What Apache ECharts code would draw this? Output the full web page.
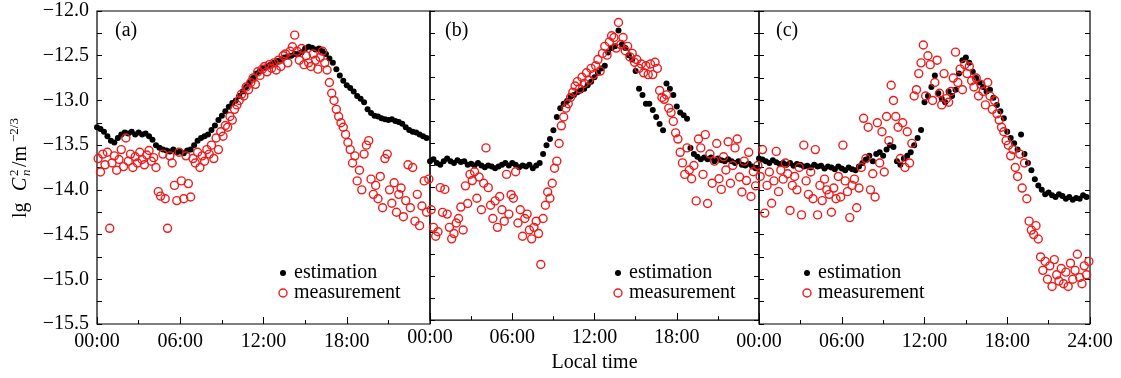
<!DOCTYPE html>
<html>
<head>
<meta charset="utf-8">
<script src="https://cdn.jsdelivr.net/npm/echarts@6/dist/echarts.min.js"></script>
<style>
  html, body { margin: 0; padding: 0; background: #fff; }
  #chart { width: 1121px; height: 378px; }
</style>
</head>
<body>
<div id="chart"></div>
<script>
// ---------- DATA ----------
const panelNames = ['(a)', '(b)', '(c)'];
const seriesNames = ['estimation', 'measurement'];
const xTickLabels = ['00:00', '06:00', '12:00', '18:00', '24:00'];
const xAxisTitle = 'Local time';

// sample times (minutes of the day)
const estTimes = [0,15,30,45,60,75,90,105,120,135,150,165,180,195,210,225,240,255,270,285,300,315,330,345,360,375,390,405,420,435,450,465,480,495,510,525,540,555,570,585,600,615,630,645,660,675,690,705,720,735,750,765,780,795,810,825,840,855,870,885,900,915,930,945,960,975,990,1005,1020,1035,1050,1065,1080,1095,1110,1125,1140,1155,1170,1185,1200,1215,1230,1245,1260,1275,1290,1305,1320,1335,1350,1365,1380,1395,1410,1425];
const measTimes = [5,15,25,35,45,55,65,75,85,95,105,115,125,135,145,155,165,175,185,195,205,215,225,235,245,255,265,275,285,295,305,315,325,335,345,355,365,375,385,395,405,415,425,435,445,455,465,475,485,495,505,515,525,535,545,555,565,575,585,595,605,615,625,635,645,655,665,675,685,695,705,715,725,735,745,755,765,775,785,795,805,815,825,835,845,855,865,875,885,895,905,915,925,935,945,955,965,975,985,995,1005,1015,1025,1035,1045,1055,1065,1075,1085,1095,1105,1115,1125,1135,1145,1155,1165,1175,1185,1195,1205,1215,1225,1235,1245,1255,1265,1275,1285,1295,1305,1315,1325,1335,1345,1355,1365,1375,1385,1395,1405,1415,1425,1435];

// panel (a)
const estA = [
 -13.30,-13.32,-13.35,-13.40, -13.45,-13.47,-13.42,-13.38, -13.36,-13.37,-13.35,-13.38, -13.36,-13.38,-13.37,-13.40,
 -13.44,-13.50,-13.53,-13.55, -13.56,-13.57,-13.55,-13.58, -13.57,-13.59,-13.56,-13.55, -13.50,-13.45,-13.42,-13.40,
 -13.38,-13.33,-13.28,-13.22, -13.17,-13.12,-13.07,-13.03, -13.00,-12.95,-12.90,-12.85, -12.80,-12.75,-12.70,-12.67,
 -12.64,-12.62,-12.60,-12.58, -12.56,-12.55,-12.52,-12.51, -12.50,-12.48,-12.48,-12.46, -12.42,-12.40,-12.41,-12.43,
 -12.42,-12.45,-12.48,-12.53, -12.58,-12.65,-12.72,-12.78, -12.83,-12.86,-12.90,-12.95, -12.98,-13.02,-13.10,-13.14,
 -13.17,-13.18,-13.20,-13.21, -13.22,-13.21,-13.23,-13.24, -13.26,-13.30,-13.33,-13.35, -13.36,-13.38,-13.40,-13.42];
const measA = [
 -13.65,-13.80,-13.60,-13.72,-13.58,-14.43, -13.70,-13.62,-13.78,-13.66,-13.55,-13.74,
 -13.42,-13.68,-13.60,-13.75,-13.63,-13.70, -13.58,-13.66,-13.72,-13.61,-13.56,-13.68,
 -13.64,-13.75,-14.02,-14.07,-13.60,-14.10, -14.43,-13.62,-13.70,-13.95,-14.12,-13.58,
 -13.90,-14.10,-13.62,-13.93,-14.08,-13.65, -13.70,-13.58,-13.75,-13.62,-13.68,-13.55,
 -13.60,-13.50,-13.65,-13.42,-13.55,-13.35, -13.40,-13.28,-13.30,-13.18,-13.22,-13.10,
 -13.05,-13.00,-12.93,-12.95,-12.85,-12.88, -12.80,-12.75,-12.82,-12.68,-12.72,-12.65,
 -12.62,-12.68,-12.60,-12.64,-12.58,-12.66, -12.55,-12.62,-12.50,-12.48,-12.58,-12.45,
 -12.40,-12.27,-12.45,-12.55,-12.42,-12.60, -12.50,-12.58,-12.62,-12.48,-12.55,-12.65,
 -12.52,-12.45,-12.58,-12.66,-12.80,-12.92, -13.00,-13.10,-13.18,-13.25,-13.30,-13.38,
 -13.47,-13.55,-13.70,-13.62,-13.90,-13.78, -14.00,-13.60,-13.50,-13.45,-13.88,-14.05,
 -13.95,-14.10,-13.85,-14.20,-13.65,-13.60, -14.00,-14.15,-13.92,-14.25,-14.05,-13.98,
 -14.30,-14.12,-13.72,-14.20,-13.75,-14.35, -14.05,-14.40,-14.18,-13.90,-14.25,-13.88];

// panel (b)
const estB = [
 -13.70,-13.68,-13.72,-13.74, -13.70,-13.67,-13.70,-13.72, -13.69,-13.71,-13.70,-13.74, -13.73,-13.75,-13.72,-13.75,
 -13.77,-13.75,-13.76,-13.78, -13.76,-13.74,-13.72,-13.75, -13.72,-13.74,-13.77,-13.75, -13.76,-13.74,-13.78,-13.75,
 -13.72,-13.62,-13.52,-13.45, -13.35,-13.20,-13.10,-13.05, -13.02,-12.97,-12.95,-12.92, -12.90,-12.88,-12.84,-12.80,
 -12.75,-12.70,-12.65,-12.62, -12.47,-12.42,-12.40,-12.22, -12.38,-12.42,-12.50,-12.55, -12.68,-12.88,-12.95,-13.05,
 -13.05,-13.12,-13.20,-13.28, -13.35,-12.82,-12.88,-12.95, -13.08,-13.15,-13.18,-13.22, -13.55,-13.62,-13.65,-13.68,
 -13.66,-13.68,-13.66,-13.70, -13.67,-13.69,-13.70,-13.68, -13.70,-13.72,-13.70,-13.74, -13.75,-13.73,-13.76,-13.78];
const measB = [
 -14.25,-14.45,-14.55,-14.50,-14.00,-14.28, -14.02,-14.30,-14.45,-14.58,-14.52,-14.40,
 -14.35,-14.22,-14.48,-13.98,-14.18,-13.85, -13.92,-13.82,-14.12,-13.88,-14.25,-13.95,
 -13.55,-14.00,-14.20,-14.35,-14.15,-14.45, -14.10,-14.25,-14.38,-13.85,-14.30,-14.08,
 -14.12,-13.82,-14.40,-14.25,-14.55,-14.35, -14.30,-14.48,-14.58,-14.45,-14.38,-14.52,
 -14.87,-14.35,-14.20,-14.05,-14.12,-13.95, -13.78,-13.70,-13.50,-13.30,-13.20,-13.10,
 -13.05,-12.98,-12.92,-12.85,-12.80,-12.88, -12.75,-12.82,-12.70,-12.78,-12.65,-12.72,
 -12.62,-12.55,-12.68,-12.48,-12.40,-12.50, -12.35,-12.28,-12.30,-12.42,-12.13,-12.38,
 -12.30,-12.45,-12.40,-12.52,-12.48,-12.58, -12.55,-12.65,-12.60,-12.70,-12.62,-12.72,
 -12.60,-12.72,-12.58,-12.65,-12.90,-12.98, -13.00,-12.95,-13.10,-13.15,-13.25,-13.38,
 -13.45,-13.60,-13.72,-13.85,-13.55,-13.80, -13.90,-13.75,-14.15,-13.45,-13.55,-13.85,
 -13.40,-14.18,-13.62,-13.95,-13.70,-13.50, -13.90,-14.02,-13.65,-13.80,-13.48,-13.95,
 -13.75,-13.55,-13.45,-13.88,-14.05,-13.70, -13.92,-13.60,-14.10,-13.82,-13.98,-13.75];

// panel (c)
const estC = [
 -13.65,-13.66,-13.68,-13.70, -13.67,-13.69,-13.71,-13.70, -13.72,-13.70,-13.73,-13.71, -13.72,-13.74,-13.73,-13.75,
 -13.72,-13.74,-13.73,-13.76, -13.74,-13.75,-13.77,-13.74, -13.76,-13.78,-13.75,-13.77, -13.78,-13.74,-13.70,-13.66,
 -13.62,-13.68,-13.60,-13.58, -13.62,-13.55,-13.50,-13.52, -13.68,-13.72,-13.65,-13.62, -13.58,-13.50,-13.42,-13.33,
 -13.02,-12.95,-12.85,-12.72, -12.92,-12.98,-13.02,-12.90, -12.95,-12.88,-12.70,-12.55, -12.52,-12.58,-12.68,-12.75,
 -12.80,-12.85,-12.90,-12.88, -12.97,-13.05,-13.12,-13.20, -13.35,-13.42,-13.48,-13.55, -13.38,-13.60,-13.70,-13.78,
 -13.88,-13.95,-14.00,-14.05, -14.03,-14.06,-14.08,-14.05, -14.07,-14.10,-14.08,-14.11, -14.09,-14.10,-14.06,-14.08];
const measC = [
 -13.85,-13.55,-14.26,-13.95,-13.80,-14.15, -13.90,-13.57,-14.02,-13.78,-13.88,-13.70,
 -13.82,-14.23,-13.95,-13.85,-14.00,-13.75, -14.28,-13.50,-13.90,-14.05,-13.80,-14.10,
 -13.55,-14.28,-13.95,-14.12,-13.88,-14.00, -14.05,-14.25,-13.98,-14.10,-13.85,-14.08,
 -13.50,-13.90,-14.02,-14.31,-13.95,-13.88, -14.20,-13.98,-13.75,-13.20,-13.65,-13.30,
 -14.00,-13.82,-14.08,-13.25,-13.70,-13.35, -13.80,-13.18,-13.45,-12.83,-13.00,-13.18,
 -13.30,-13.65,-13.25,-13.75,-13.35,-13.70, -13.48,-12.95,-12.88,-12.70,-12.58,-12.38,
 -12.95,-12.50,-12.60,-13.00,-12.80,-12.55, -12.92,-13.05,-12.70,-12.98,-13.02,-12.90,
 -12.75,-12.46,-12.80,-12.65,-12.88,-12.60, -12.70,-12.62,-12.78,-12.85,-12.75,-12.95,
 -12.82,-12.90,-13.05,-12.80,-12.95,-13.10, -13.00,-13.15,-13.22,-13.30,-13.35,-13.45,
 -13.50,-13.62,-13.55,-13.75,-13.85,-13.60, -13.98,-13.70,-14.10,-14.35,-14.45,-14.50,
 -14.40,-14.55,-14.75,-14.90,-14.80,-15.00, -14.85,-15.08,-14.78,-14.95,-15.02,-14.88,
 -15.05,-14.92,-15.08,-14.82,-15.00,-14.90, -14.72,-14.98,-15.05,-14.85,-14.95,-14.80];

const estPanels = [estA, estB, estC];
const measPanels = [measA, measB, measC];

// ---------- STYLE / LAYOUT ----------
const FONT = '"Liberation Serif", "DejaVu Serif", serif';
const RED = '#ee1b1b';
const gridBoxes = [
  { left: 97, top: 11, width: 333, height: 313 },
  { left: 430, top: 11, width: 329, height: 313 },
  { left: 759, top: 11, width: 331, height: 313 }
];
const legendPos = [{ x: 283 }, { x: 618 }, { x: 807 }];
const panelLabelX = [115, 445, 776];

function pairs(times, vals) {
  const out = [];
  for (let k = 0; k < vals.length; k++) {
    if (vals[k] !== null && vals[k] !== undefined) out.push([times[k], vals[k]]);
  }
  return out;
}
function fmtY(v) {
  const s = v.toFixed(1);
  return s.charAt(0) === '-' ? '\u2212' + s.slice(1) : s;
}

const grid = gridBoxes.map(g => Object.assign({
  show: true, borderColor: '#000', borderWidth: 1.2, backgroundColor: 'transparent'
}, g));

const xAxis = [0, 1, 2].map(i => ({
  type: 'value', gridIndex: i, min: 0, max: 1440, interval: 360,
  axisLine: { show: false },
  axisTick: { show: true, inside: true, length: 7, lineStyle: { color: '#000', width: 1 } },
  minorTick: { show: true, splitNumber: 2, length: 4, lineStyle: { color: '#000', width: 1 } },
  splitLine: { show: false },
  axisLabel: {
    color: '#000', fontFamily: FONT, fontSize: 20, margin: 8,
    showMinLabel: true, showMaxLabel: true,
    formatter: function (v) {
      const idx = Math.round(v / 360);
      if (idx === 4 && i < 2) return '';
      return xTickLabels[idx] || '';
    }
  },
  name: i === 1 ? xAxisTitle : '',
  nameLocation: 'middle', nameGap: 27,
  nameTextStyle: { color: '#000', fontFamily: FONT, fontSize: 20 }
}));

const yAxis = [];
[0, 1, 2].forEach(i => {
  yAxis.push({
    type: 'value', gridIndex: i, position: 'left', min: -15.5, max: -12.0, interval: 0.5,
    axisLine: { show: false },
    axisTick: { show: true, inside: true, length: 5, lineStyle: { color: '#000', width: 1 } },
    minorTick: { show: true, splitNumber: 2, length: 5, lineStyle: { color: '#000', width: 1 } },
    splitLine: { show: false },
    axisLabel: { show: i === 0, color: '#000', fontFamily: FONT, fontSize: 20, margin: 8, formatter: fmtY }
  });
  yAxis.push({
    type: 'value', gridIndex: i, position: 'right', min: -15.5, max: -12.0, interval: 0.5,
    axisLine: { show: false },
    axisTick: { show: i > 0, inside: true, length: 5, lineStyle: { color: '#000', width: 1 } },
    minorTick: { show: i > 0, splitNumber: 2, length: 5, lineStyle: { color: '#000', width: 1 } },
    splitLine: { show: false },
    axisLabel: { show: false }
  });
});

const series = [];
[0, 1, 2].forEach(i => {
  series.push({
    name: seriesNames[0], type: 'scatter', xAxisIndex: i, yAxisIndex: 2 * i,
    symbol: 'circle', symbolSize: 6,
    itemStyle: { color: '#000', opacity: 1 },
    data: pairs(estTimes, estPanels[i]), z: 2, silent: true
  });
  series.push({
    name: seriesNames[1], type: 'scatter', xAxisIndex: i, yAxisIndex: 2 * i,
    symbol: 'circle', symbolSize: 8,
    itemStyle: { color: 'rgba(255,255,255,0)', borderColor: RED, borderWidth: 1.4, opacity: 1 },
    data: pairs(measTimes, measPanels[i]), z: 3, silent: true
  });
});

function txtStyle(txt, size, italic) {
  return { text: txt, font: (italic ? 'italic ' : '') + size + 'px ' + FONT, fill: '#000',
           align: 'left', verticalAlign: 'middle', textAlign: 'left', textVerticalAlign: 'middle' };
}

const graphic = [];
[0, 1, 2].forEach(i => {
  graphic.push({ type: 'text', x: panelLabelX[i], y: 31, silent: true, style: txtStyle(panelNames[i], 20, false) });
  const lx = legendPos[i].x;
  graphic.push({ type: 'circle', silent: true, shape: { cx: lx, cy: 273, r: 3 }, style: { fill: '#000' } });
  graphic.push({ type: 'circle', silent: true, shape: { cx: lx, cy: 293, r: 4 },
                 style: { fill: 'none', stroke: RED, lineWidth: 1.4 } });
  graphic.push({ type: 'text', x: lx + 11, y: 273, silent: true, style: txtStyle(seriesNames[0], 20, false) });
  graphic.push({ type: 'text', x: lx + 11, y: 293, silent: true, style: txtStyle(seriesNames[1], 20, false) });
});

// y-axis title: lg C_n^2 /m^{-2/3}, each piece rotated 90deg (reads bottom to top)
// along = distance up from the baseline start, across = offset to the right of the centre line
const yTitleParts = [
  { s: 'lg', along: 0, across: 0, size: 20, it: false },
  { s: 'C', along: 27, across: 0, size: 20, it: true },
  { s: '2', along: 42, across: -6, size: 13, it: false },
  { s: 'n', along: 42, across: 6, size: 13, it: true },
  { s: '/m', along: 51, across: 0, size: 20, it: false },
  { s: '\u22122/3', along: 76, across: -6, size: 13, it: false }
];
yTitleParts.forEach(p => {
  graphic.push({
    type: 'text', silent: true, rotation: Math.PI / 2,
    x: 21 + p.across, y: 218 - p.along,
    style: txtStyle(p.s, p.size, p.it)
  });
});

const chart = echarts.init(document.getElementById('chart'), null, { renderer: 'canvas' });
chart.setOption({
  animation: false,
  backgroundColor: '#fff',
  grid: grid,
  xAxis: xAxis,
  yAxis: yAxis,
  series: series,
  graphic: graphic
});
</script>
</body>
</html>
